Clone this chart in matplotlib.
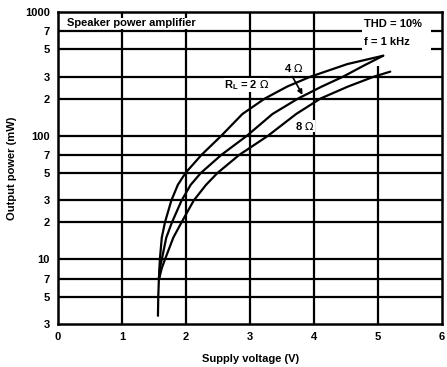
import matplotlib
matplotlib.use('Agg')
import matplotlib.pyplot as plt
from matplotlib.patches import Rectangle

plt.rcParams['font.family'] = ['Liberation Sans', 'DejaVu Sans']

# curves: supply voltage (V) vs output power (mW)
v_2ohm = [1.56, 1.565, 1.575, 1.59, 1.62, 1.67, 1.77, 1.87, 1.99, 2.24, 2.55,
          2.88, 3.23, 3.58, 3.94, 4.52, 5.08]
p_2ohm = [3.5, 5, 7, 10, 15, 20, 30, 40, 50, 70, 100,
          150, 200, 250, 300, 380, 444]

v_4ohm = [1.575, 1.59, 1.62, 1.69, 1.78, 1.93, 2.07, 2.23, 2.55, 2.95,
          3.35, 3.75, 4.12, 4.45, 4.78, 5.08]
p_4ohm = [7, 8.5, 10, 15, 20, 30, 40, 50, 70, 100,
          150, 200, 250, 300, 370, 444]

v_8ohm = [1.58, 1.62, 1.67, 1.80, 1.93, 2.12, 2.31, 2.49, 2.83, 3.28,
          3.72, 4.10, 4.53, 4.93, 5.19]
p_8ohm = [7, 8.5, 10, 15, 20, 30, 40, 50, 70, 100,
          150, 200, 250, 300, 330]

x_ticks = [0, 1, 2, 3, 4, 5, 6]
y_ticks = [3, 5, 7, 10, 20, 30, 50, 70, 100, 200, 300, 500, 700, 1000]
y_labels = ['3', '5', '7', '10', '2', '3', '5', '7', '100', '2', '3', '5', '7', '1000']

fig = plt.figure(figsize=(4.47, 3.67), dpi=100)
ax = fig.add_axes([0.130, 0.117, 0.859, 0.850])

ax.set_yscale('log')
ax.set_xlim(0, 6)
ax.set_ylim(3, 1000)

# grid lines at every labelled tick
for x in x_ticks[1:-1]:
    ax.axvline(x, color='black', lw=1.6, zorder=1)
for y in y_ticks[1:-1]:
    ax.axhline(y, color='black', lw=1.6, zorder=1)

# white block behind the THD / f note
ax.add_patch(Rectangle((4.75, 365), 1.08, 640, facecolor='white',
                       edgecolor='none', zorder=2))

for v, p in [(v_2ohm, p_2ohm), (v_4ohm, p_4ohm), (v_8ohm, p_8ohm)]:
    ax.plot(v, p, color='black', lw=1.6, zorder=3,
            solid_capstyle='round', solid_joinstyle='round')

ax.set_xticks(x_ticks)
ax.set_xticklabels([str(t) for t in x_ticks])
ax.set_yticks(y_ticks)
ax.set_yticklabels(y_labels)
ax.minorticks_off()
ax.tick_params(length=0, labelsize=8, pad=6)
for lab in ax.get_xticklabels() + ax.get_yticklabels():
    lab.set_fontweight('bold')

for s in ax.spines.values():
    s.set_linewidth(1.8)

ax.set_xlabel('Supply voltage (V)', fontsize=8, fontweight='bold', labelpad=8)
ax.set_ylabel('Output power (mW)', fontsize=8, fontweight='bold', labelpad=6)

txt = dict(fontsize=8, fontweight='bold', zorder=4)
ax.text(0.14, 740, 'Speaker power amplifier', va='bottom', ha='left',
        bbox=dict(facecolor='white', edgecolor='none', pad=0.6), **txt)
ax.text(4.78, 735, 'THD = 10%', va='bottom', ha='left', **txt)
ax.text(4.78, 520, 'f = 1 kHz', va='bottom', ha='left', **txt)

ax.text(2.95, 258, r'R$_\mathregular{L}$ = 2 $\Omega$', ha='center', va='center',
        bbox=dict(facecolor='white', edgecolor='none', pad=0.3), **txt)
ax.text(3.68, 355, r'4 $\Omega$', ha='center', va='center', **txt)
ax.text(3.86, 120, r'8 $\Omega$', ha='center', va='center',
        bbox=dict(facecolor='white', edgecolor='none', pad=0.3), **txt)
ax.annotate('', xy=(3.84, 205), xytext=(3.64, 315),
            arrowprops=dict(arrowstyle='-|>', color='black', lw=1.2,
                            mutation_scale=7), zorder=4)

fig.savefig('out.png', dpi=100)
